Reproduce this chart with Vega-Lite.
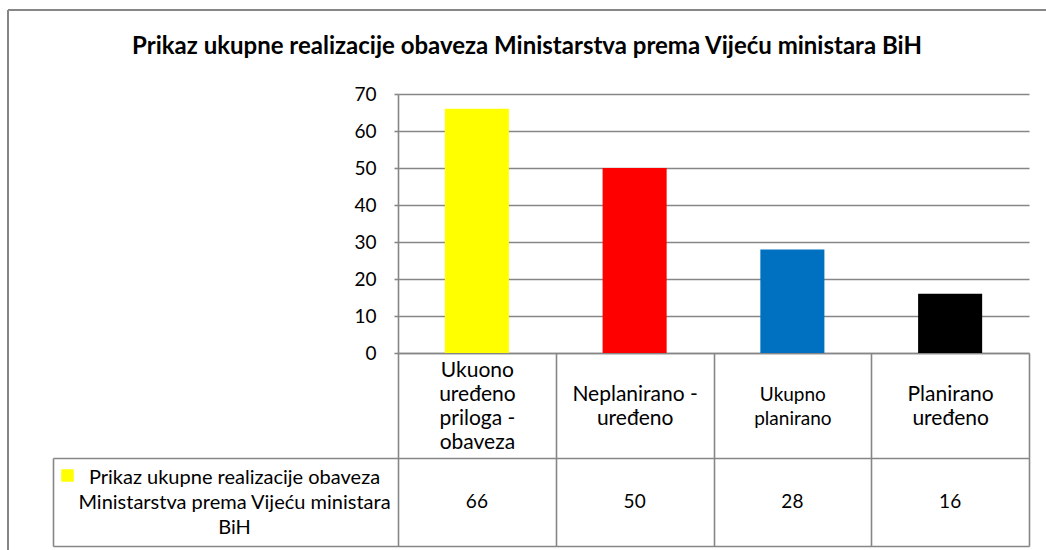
{
  "$schema": "https://vega.github.io/schema/vega-lite/v6.json",
  "autosize": {"type": "none"},
  "width": 631,
  "height": 259,
  "padding": {"left": 398, "top": 94, "right": 17, "bottom": 197},
  "background": "white",
  "config": {"view": {"stroke": null}},
  "title": {
    "text": "Prikaz ukupne realizacije obaveza Ministarstva prema Vijeću ministara BiH",
    "frame": "group",
    "anchor": "middle",
    "dx": -186.5,
    "offset": -61,
    "baseline": "middle",
    "fontSize": 24,
    "font": "Lato",
    "fontWeight": "bold",
    "color": "black"
  },
  "data": {
    "values": [
      {"cat": "Ukuono uređeno priloga - obaveza", "value": 66, "series": "Prikaz ukupne realizacije obaveza Ministarstva prema Vijeću ministara BiH"},
      {"cat": "Neplanirano - uređeno", "value": 50, "series": "Prikaz ukupne realizacije obaveza Ministarstva prema Vijeću ministara BiH"},
      {"cat": "Ukupno planirano", "value": 28, "series": "Prikaz ukupne realizacije obaveza Ministarstva prema Vijeću ministara BiH"},
      {"cat": "Planirano uređeno", "value": 16, "series": "Prikaz ukupne realizacije obaveza Ministarstva prema Vijeću ministara BiH"}
    ]
  },
  "layer": [
    {
      "mark": {"type": "bar", "width": {"band": 0.406}},
      "encoding": {
        "x": {
          "field": "cat", "type": "nominal", "sort": null,
          "scale": {"type": "band", "paddingInner": 0, "paddingOuter": 0},
          "axis": {
            "orient": "bottom", "title": null, "grid": false,
            "domainColor": "#868686", "domainWidth": 1.6,
            "ticks": true, "tickBand": "extent", "tickSize": 193, "tickColor": "#868686", "tickWidth": 1.6,
            "labelExpr": "datum.value == 'Ukuono uređeno priloga - obaveza' ? ['Ukuono','uređeno','priloga -','obaveza'] : datum.value == 'Neplanirano - uređeno' ? ['Neplanirano -','uređeno'] : datum.value == 'Ukupno planirano' ? ['Ukupno','planirano'] : datum.value == 'Planirano uređeno' ? ['Planirano','uređeno'] : ''",
            "labelPadding": -164,
            "labelBaseline": {"condition": {"test": "datum.value == 'Ukuono uređeno priloga - obaveza'", "value": "line-bottom"}, "value": "line-top"},
            "labelAlign": "center", "labelAngle": 0,
            "labelLineHeight": 24,
            "labelFontSize": {"condition": {"test": "datum.value == 'Ukupno planirano'", "value": 19}, "value": 21},
            "labelColor": "black", "labelFont": "Lato", "labelLimit": 0, "labelOverlap": false
          }
        },
        "y": {
          "field": "value", "type": "quantitative",
          "scale": {"domain": [0, 70]},
          "axis": {
            "orient": "left", "title": null, "values": [0, 10, 20, 30, 40, 50, 60, 70],
            "grid": true, "gridColor": "#868686", "gridWidth": 1.6,
            "domainColor": "#868686", "domainWidth": 1.6,
            "ticks": true, "tickSize": 4, "tickColor": "#868686", "tickWidth": 1.6,
            "labelPadding": 18, "labelFontSize": 19, "labelColor": "black", "labelFont": "Lato"
          }
        },
        "color": {
          "field": "cat", "type": "nominal", "sort": null,
          "scale": {
            "domain": ["Ukuono uređeno priloga - obaveza", "Neplanirano - uređeno", "Ukupno planirano", "Planirano uređeno"],
            "range": ["#FFFF00", "#FF0000", "#0070C0", "#000000"]
          },
          "legend": {
            "values": ["Ukuono uređeno priloga - obaveza"],
            "orient": "none", "legendX": -337, "legendY": 375,
            "title": null, "symbolType": "square", "symbolSize": 156, "symbolStrokeWidth": 0,
            "labelExpr": "''", "padding": 0
          }
        }
      }
    },
    {
      "mark": {"type": "text", "fontSize": 19, "font": "Lato", "color": "black"},
      "encoding": {
        "x": {"field": "cat", "type": "nominal", "sort": null, "scale": {"type": "point", "padding": 0.5}, "axis": null},
        "y": {
          "field": "series", "type": "nominal",
          "scale": {"type": "band", "range": [364, 452], "paddingInner": 0, "paddingOuter": 0},
          "axis": {
            "orient": "right", "offset": -976, "title": null, "grid": false,
            "domainColor": "#868686", "domainWidth": 1.6,
            "ticks": true, "tickBand": "extent", "tickSize": 976, "tickColor": "#868686", "tickWidth": 1.6,
            "labelPadding": -795, "labelOffset": -25, "labelAlign": "center", "labelBaseline": "middle",
            "labelLineHeight": 25, "labelFontSize": 20, "labelColor": "black", "labelFont": "Lato", "labelLimit": 0,
            "labelExpr": "datum.value == 'Prikaz ukupne realizacije obaveza Ministarstva prema Vijeću ministara BiH' ? ['Prikaz ukupne realizacije obaveza', 'Ministarstva prema Vijeću ministara', 'BiH'] : ''"
          }
        },
        "text": {"field": "value", "type": "quantitative"}
      }
    },
    {
      "mark": {"type": "point", "opacity": 0},
      "encoding": {
        "x": {
          "field": "cat", "type": "nominal", "sort": null,
          "scale": {"type": "point", "range": [-390.5, 660]},
          "axis": {"orient": "top", "offset": 84.5, "title": null, "labels": false, "ticks": false, "grid": false, "domainColor": "#868686", "domainWidth": 2}
        },
        "y": {
          "field": "cat", "type": "nominal", "sort": null,
          "scale": {"type": "point", "range": [-84.5, 470]},
          "axis": {"orient": "left", "offset": 390.5, "title": null, "labels": false, "ticks": false, "grid": false, "domainColor": "#868686", "domainWidth": 2}
        }
      }
    }
  ],
  "resolve": {"scale": {"x": "independent", "y": "independent"}}
}
